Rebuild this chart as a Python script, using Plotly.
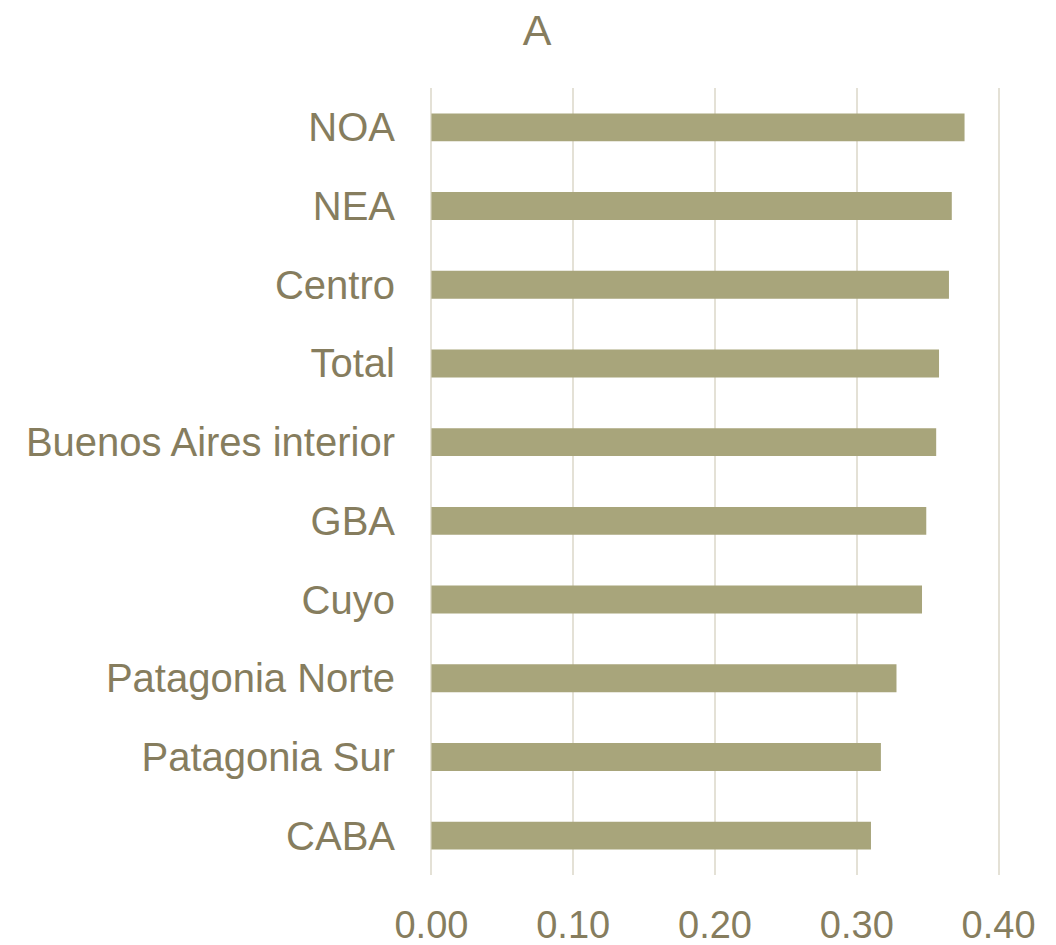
import plotly.graph_objects as go

categories = ["CABA", "Patagonia Sur", "Patagonia Norte", "Cuyo", "GBA",
              "Buenos Aires interior", "Total", "Centro", "NEA", "NOA"]
values = [0.310, 0.317, 0.328, 0.346, 0.349, 0.356, 0.358, 0.365, 0.367, 0.376]
tick_vals = [0.0, 0.1, 0.2, 0.3, 0.4]
tick_text = ["0.00", "0.10", "0.20", "0.30", "0.40"]

text_color = "#867D5E"
bar_color = "#A8A57B"
grid_color = "#E4E1D6"

fig = go.Figure(go.Bar(
    x=values, y=categories, orientation="h",
    marker=dict(color=bar_color, line=dict(width=0)),
    width=0.355,
))

fig.update_layout(
    width=1056, height=945,
    paper_bgcolor="white", plot_bgcolor="white",
    margin=dict(l=422, r=64, t=80, b=78),
    title=dict(text="A", x=529/1056, xanchor="center", y=1-7/945, yanchor="top",
               font=dict(family="Liberation Sans, Arial", size=43, color=text_color)),
    font=dict(family="Liberation Sans, Arial", color=text_color),
    showlegend=False,
)
fig.update_xaxes(range=[-0.001, 0.401], tickvals=tick_vals, ticktext=tick_text,
                 showgrid=True, gridcolor=grid_color, gridwidth=2,
                 zeroline=False, showline=False, ticks="", automargin=False,
                 tickfont=dict(size=38, color=text_color), ticklabelstandoff=24)
fig.update_yaxes(showgrid=False, zeroline=False, showline=False, ticks="",
                 automargin=False,
                 tickfont=dict(size=40, color=text_color), ticklabelstandoff=34)

fig.write_html("out.html")
